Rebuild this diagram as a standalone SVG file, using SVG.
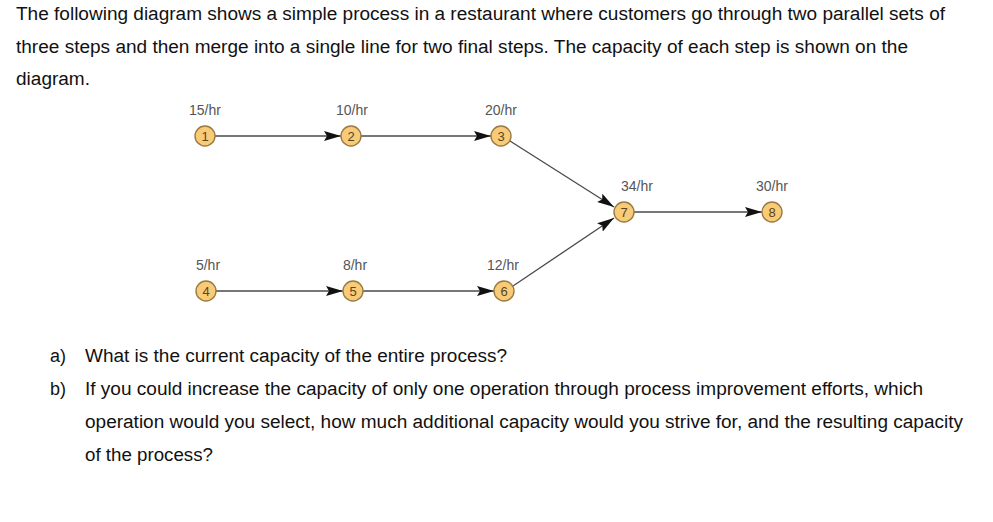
<svg xmlns="http://www.w3.org/2000/svg" width="993" height="522" viewBox="0 0 993 522">
<style>
.body{font-family:"Liberation Sans",Arial,sans-serif;font-size:18px;fill:#111}
.cap{font-family:"Liberation Sans",Arial,sans-serif;font-size:14px;fill:#555;text-anchor:middle}
.num{font-family:"Liberation Sans",Arial,sans-serif;font-size:13px;fill:#5a4520;text-anchor:middle}
.node circle{fill:#F7CB78;stroke:#9B7A42;stroke-width:1.4}
.edge{stroke:#4a4a4a;stroke-width:1.3;fill:none;marker-end:url(#arr)}
</style>
<defs>
<marker id="arr" viewBox="0 0 17 10" refX="17" refY="5" markerWidth="17" markerHeight="10" markerUnits="userSpaceOnUse" orient="auto">
<path d="M0,0 L17,5 L0,10 L3,5 Z" fill="#111"/>
</marker>
</defs>
<rect width="993" height="522" fill="#fff"/>
<g id="intro">
<text class="body" x="16" y="20" textLength="929" lengthAdjust="spacingAndGlyphs">The following diagram shows a simple process in a restaurant where customers go through two parallel sets of</text>
<text class="body" x="16" y="53" textLength="892" lengthAdjust="spacingAndGlyphs">three steps and then merge into a single line for two final steps. The capacity of each step is shown on the</text>
<text class="body" x="16" y="85" textLength="74" lengthAdjust="spacingAndGlyphs">diagram.</text>
</g>
<g id="connectors">
<line class="edge" x1="215" y1="136" x2="341" y2="136"/>
<line class="edge" x1="361" y1="136" x2="491" y2="136"/>
<line class="edge" x1="510" y1="141" x2="614" y2="207"/>
<line class="edge" x1="216" y1="291" x2="343" y2="291"/>
<line class="edge" x1="363" y1="291" x2="494" y2="291"/>
<line class="edge" x1="513" y1="286" x2="614" y2="218"/>
<line class="edge" x1="634" y1="212" x2="762" y2="212"/>
</g>
<g id="node1" class="node"><text class="cap" x="205" y="115">15/hr</text><circle cx="205" cy="136" r="10"/><text class="num" x="205" y="140.5">1</text></g>
<g id="node2" class="node"><text class="cap" x="352" y="115">10/hr</text><circle cx="351" cy="136" r="10"/><text class="num" x="351" y="140.5">2</text></g>
<g id="node3" class="node"><text class="cap" x="501" y="115">20/hr</text><circle cx="501" cy="136" r="10"/><text class="num" x="501" y="140.5">3</text></g>
<g id="node4" class="node"><text class="cap" x="208" y="270">5/hr</text><circle cx="206" cy="291" r="10"/><text class="num" x="206" y="295.5">4</text></g>
<g id="node5" class="node"><text class="cap" x="355" y="270">8/hr</text><circle cx="353" cy="291" r="10"/><text class="num" x="353" y="295.5">5</text></g>
<g id="node6" class="node"><text class="cap" x="503" y="270">12/hr</text><circle cx="504" cy="291" r="10"/><text class="num" x="504" y="295.5">6</text></g>
<g id="node7" class="node"><text class="cap" x="637" y="191">34/hr</text><circle cx="624" cy="212" r="10"/><text class="num" x="624" y="216.5">7</text></g>
<g id="node8" class="node"><text class="cap" x="772" y="191">30/hr</text><circle cx="772" cy="212" r="10"/><text class="num" x="772" y="216.5">8</text></g>
<g id="questions">
<text class="body" x="50" y="362">a)</text>
<text class="body" x="85" y="362" textLength="422" lengthAdjust="spacingAndGlyphs">What is the current capacity of the entire process?</text>
<text class="body" x="50" y="395">b)</text>
<text class="body" x="85" y="395" textLength="838" lengthAdjust="spacingAndGlyphs">If you could increase the capacity of only one operation through process improvement efforts, which</text>
<text class="body" x="85" y="428" textLength="878" lengthAdjust="spacingAndGlyphs">operation would you select, how much additional capacity would you strive for, and the resulting capacity</text>
<text class="body" x="85" y="461" textLength="128" lengthAdjust="spacingAndGlyphs">of the process?</text>
</g>
</svg>
